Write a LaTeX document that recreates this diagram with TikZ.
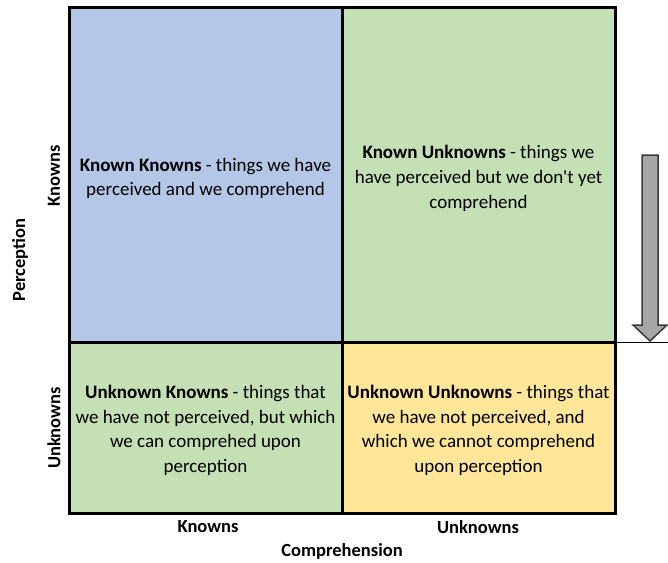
\documentclass[tikz,border=0pt]{standalone}
\usepackage{fontspec}
\setmainfont{Carlito}
\definecolor{kkblue}{HTML}{B4C7E7}
\definecolor{kugreen}{HTML}{C5E0B4}
\definecolor{uuyellow}{HTML}{FFE699}
\definecolor{arrowgray}{HTML}{A6A6A6}
\definecolor{arrowline}{HTML}{3A3A3A}
\begin{document}
\begin{tikzpicture}[x=1pt,y=-1pt,
  panel/.style={draw=black, line width=3pt, minimum width=273pt, inner sep=0pt, outer sep=0pt},
  txt/.style={align=center, font=\fontsize{19}{24.7}\selectfont, inner sep=0pt},
  axislabel/.style={font=\bfseries\fontsize{18.5}{20}\selectfont, inner sep=0pt}]
\useasboundingbox (0,0) rectangle (668,562);
% panels
\node[panel, fill=kkblue, minimum height=335pt] (kk) at (205.5,174.5) {};
\node[panel, fill=kugreen, minimum height=335pt] (ku) at (478.5,174.5) {};
\node[panel, fill=kugreen, minimum height=171pt] (uk) at (205.5,427.5) {};
\node[panel, fill=uuyellow, minimum height=171pt] (uu) at (478.5,427.5) {};
% texts
\node[txt] (kkt) at ([yshift=-4pt]kk.center) {\textbf{Known Knowns} - things we have\\perceived and we comprehend};
\node[txt] (kut) at ([yshift=-4pt]ku.center) {\textbf{Known Unknowns} - things we\\have perceived but we don\textquotesingle t yet\\comprehend};
\node[txt] (ukt) at ([yshift=-3pt]uk.center) {\textbf{Unknown Knowns} - things that\\we have not perceived, but which\\we can comprehed upon\\perception};
\node[txt] (uut) at ([yshift=-3pt]uu.center) {\textbf{Unknown Unknowns} - things that\\we have not perceived, and\\which we cannot comprehend\\upon perception};
% axis labels
\node[axislabel] (bk) at (208,527) {Knowns};
\node[axislabel] (bu) at (478,527) {Unknowns};
\node[axislabel] (comp) at (342,551) {Comprehension};
\node[axislabel, rotate=90] (lk) at (54,176) {Knowns};
\node[axislabel, rotate=90] (lu) at (54,428) {Unknowns};
\node[axislabel, rotate=90] (perc) at (20,260) {Perception};
% thin line to the right
\coordinate (lineend) at (668,342);
\draw[line width=1pt] (ku.south east) -- (lineend);
% block arrow
\filldraw[fill=arrowgray, draw=arrowline, line width=1.5pt, line join=miter]
  (642,155) -- (658,155) -- (658,325) -- (667,325) -- (650,341) -- (633,325) -- (642,325) -- cycle;
\end{tikzpicture}
\end{document}
